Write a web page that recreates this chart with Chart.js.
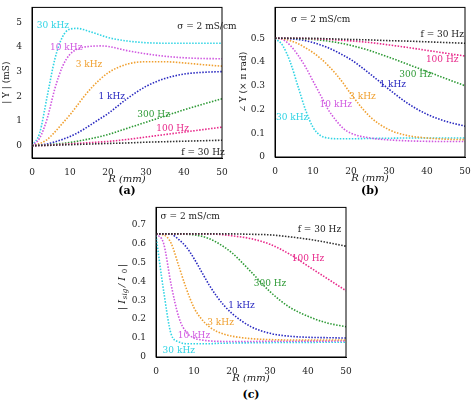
<!DOCTYPE html><html><head><meta charset="utf-8">
<script src="https://cdn.jsdelivr.net/npm/chart.js@4"></script>
<style>body{margin:0;width:474px;height:402px;background:#fff;position:relative;overflow:hidden;font-family:"DejaVu Serif",serif}
canvas{position:absolute}.lab{position:absolute;font:bold 11px "DejaVu Serif",serif;transform:translateX(-50%)}</style></head><body>
<div style="position:absolute;left:0;top:0;width:237px;height:185px"><canvas id="a"></canvas></div>
<div style="position:absolute;left:237px;top:0;width:237px;height:184px"><canvas id="b"></canvas></div>
<div style="position:absolute;left:110px;top:200px;width:250px;height:184px"><canvas id="c"></canvas></div>
<div class="lab" style="left:127px;top:184px">(a)</div>
<div class="lab" style="left:370px;top:184px">(b)</div>
<div class="lab" style="left:251px;top:388px">(c)</div>
<script>
const R=[0,2,4,6,8,10,12,14,16,18,20,25,30,35,40,45,50];
const names=["f = 30 Hz","100 Hz","300 Hz","1 kHz","3 kHz","10 kHz","30 kHz"];
const colors=["#333333","#e8288a","#2e9a36","#2828c0","#f0a030","#d058e0","#30d4e4"];
const magA=[
[0,0.005,0.01,0.02,0.03,0.04,0.05,0.06,0.07,0.08,0.09,0.11,0.14,0.16,0.18,0.2,0.22],
[0,0.005,0.015,0.03,0.05,0.07,0.09,0.11,0.13,0.15,0.17,0.25,0.35,0.45,0.55,0.65,0.75],
[0,0.01,0.03,0.06,0.09,0.13,0.18,0.24,0.3,0.37,0.45,0.7,0.95,1.2,1.45,1.68,1.9],
[0,0.02,0.07,0.15,0.25,0.37,0.52,0.7,0.9,1.1,1.3,1.9,2.4,2.72,2.9,2.97,3.0],
[0,0.08,0.25,0.55,0.9,1.25,1.65,2.05,2.4,2.7,2.95,3.3,3.4,3.4,3.35,3.28,3.22],
[0,0.3,1.1,2.3,3.2,3.7,3.92,4.0,4.03,4.04,4.02,3.85,3.72,3.62,3.56,3.53,3.52],
[0,0.5,2.0,3.5,4.4,4.72,4.75,4.68,4.58,4.48,4.38,4.24,4.17,4.15,4.15,4.15,4.15]];
const phaseB=[
[0.5,0.5,0.5,0.5,0.5,0.5,0.499,0.498,0.497,0.496,0.495,0.493,0.49,0.488,0.485,0.482,0.479],
[0.5,0.5,0.5,0.5,0.499,0.498,0.497,0.495,0.493,0.491,0.489,0.482,0.472,0.461,0.449,0.437,0.425],
[0.5,0.5,0.5,0.499,0.497,0.495,0.492,0.488,0.483,0.477,0.47,0.448,0.42,0.39,0.36,0.33,0.3],
[0.5,0.5,0.498,0.495,0.49,0.482,0.472,0.46,0.445,0.428,0.41,0.35,0.285,0.225,0.18,0.15,0.13],
[0.5,0.498,0.49,0.478,0.46,0.44,0.415,0.385,0.35,0.31,0.265,0.17,0.115,0.09,0.08,0.075,0.073],
[0.5,0.495,0.47,0.43,0.38,0.32,0.26,0.2,0.155,0.12,0.1,0.08,0.072,0.068,0.066,0.065,0.065],
[0.5,0.47,0.4,0.3,0.2,0.125,0.09,0.08,0.077,0.077,0.077,0.078,0.079,0.08,0.08,0.08,0.08]];
const ratioC=[
[0.65,0.65,0.65,0.65,0.65,0.65,0.65,0.65,0.65,0.65,0.65,0.648,0.645,0.635,0.622,0.605,0.585],
[0.65,0.65,0.65,0.65,0.65,0.65,0.65,0.65,0.648,0.645,0.64,0.625,0.595,0.545,0.48,0.415,0.35],
[0.65,0.65,0.65,0.65,0.648,0.645,0.638,0.625,0.605,0.58,0.55,0.45,0.345,0.265,0.215,0.18,0.16],
[0.65,0.65,0.648,0.62,0.58,0.52,0.45,0.38,0.32,0.27,0.23,0.16,0.125,0.11,0.104,0.102,0.1],
[0.65,0.645,0.6,0.48,0.36,0.26,0.2,0.16,0.135,0.12,0.11,0.097,0.092,0.09,0.09,0.09,0.09],
[0.65,0.6,0.38,0.21,0.13,0.1,0.09,0.085,0.083,0.082,0.082,0.082,0.083,0.083,0.084,0.084,0.085],
[0.64,0.35,0.12,0.08,0.07,0.07,0.07,0.07,0.072,0.073,0.074,0.075,0.076,0.077,0.077,0.078,0.078]];
const labelsA=[[45,-0.3],[37,0.7],[32,1.25],[21,2.0],[15,3.3],[9,3.98],[5.5,4.85]];
const labelsB=[[44,0.515],[44,0.41],[37,0.345],[31,0.305],[23,0.255],[16,0.22],[4.5,0.165]];
const labelsC=[[43,0.67],[40,0.52],[30,0.385],[22.5,0.27],[17,0.18],[10,0.115],[6,0.035]];
const serif='"DejaVu Serif",serif';
function mk(id,vals,lbls,sig,ymin,ymax,step,yw,pad,ytitle){
 new Chart(document.getElementById(id),{type:'line',
 data:{datasets:vals.map((v,i)=>({data:R.map((x,j)=>({x,y:v[j]})),borderColor:colors[i],borderWidth:1.6,borderDash:[1.5,1.5],pointRadius:0,tension:0.4,cubicInterpolationMode:'monotone',fill:false}))},
 options:{animation:false,responsive:true,maintainAspectRatio:false,layout:{padding:pad},
 plugins:{legend:{display:false},tooltip:{enabled:false}},
 scales:{x:{type:'linear',min:0,max:50,ticks:{stepSize:10,font:{family:serif,size:9},color:'#222',padding:1},grid:{display:false},border:{color:'#000'},
   title:{display:true,text:'R (mm)',font:{family:serif,size:10,style:'italic'},color:'#222',padding:0},afterFit:s=>{s.height=27}},
  y:{min:ymin,max:ymax,ticks:{stepSize:step,font:{family:serif,size:9},color:'#222',padding:2,callback:v=>Math.abs(v-Math.round(v/step)*step)<1e-9?(+v.toFixed(1)).toString():''},grid:{display:false},border:{color:'#000'},
   title:{display:!!ytitle,text:ytitle,font:{family:serif,size:9},color:'#222',padding:1},afterFit:s=>{s.width=yw}}}},
 plugins:[{id:'t',afterDatasetsDraw(ch){const c=ch.ctx,a=ch.chartArea,x=ch.scales.x,y=ch.scales.y;c.save();c.strokeStyle='#000';c.lineWidth=1;c.strokeRect(a.left,a.top,a.right-a.left,a.bottom-a.top);
  c.font='9px '+serif;c.textAlign='center';c.textBaseline='middle';
  lbls.forEach((p,i)=>{c.fillStyle=i==0?'#222':colors[i];c.fillText(names[i],x.getPixelForValue(p[0]),y.getPixelForValue(p[1]));});
  c.fillStyle='#222';c.fillText('σ = 2 mS/cm',x.getPixelForValue(sig[0]),y.getPixelForValue(sig[1]));
  if(!ytitle){c.translate(12,(a.top+a.bottom)/2);c.rotate(-Math.PI/2);c.textAlign='left';c.font='italic 10px '+serif;
   c.fillText('| I',-28,0);c.font='italic 7px '+serif;c.fillText('sig',-17,3);c.font='italic 10px '+serif;c.fillText('/ I',-5,0);c.font='7px '+serif;c.fillText('0',9,3);c.font='10px '+serif;c.fillText('|',15,0);}
  c.restore();}}]});
}
mk('a',magA,labelsA,[46,4.8],-0.5,5.6,1,32,{top:5,right:15},'| Y | (mS)');
mk('b',phaseB,labelsB,[12,0.58],0,0.63,0.1,38,{top:1,right:9},'∠ Y (× π rad)');
mk('c',ratioC,labelsC,[9,0.74],0,0.79,0.1,46,{top:7,right:14},'');
</script></body></html>
